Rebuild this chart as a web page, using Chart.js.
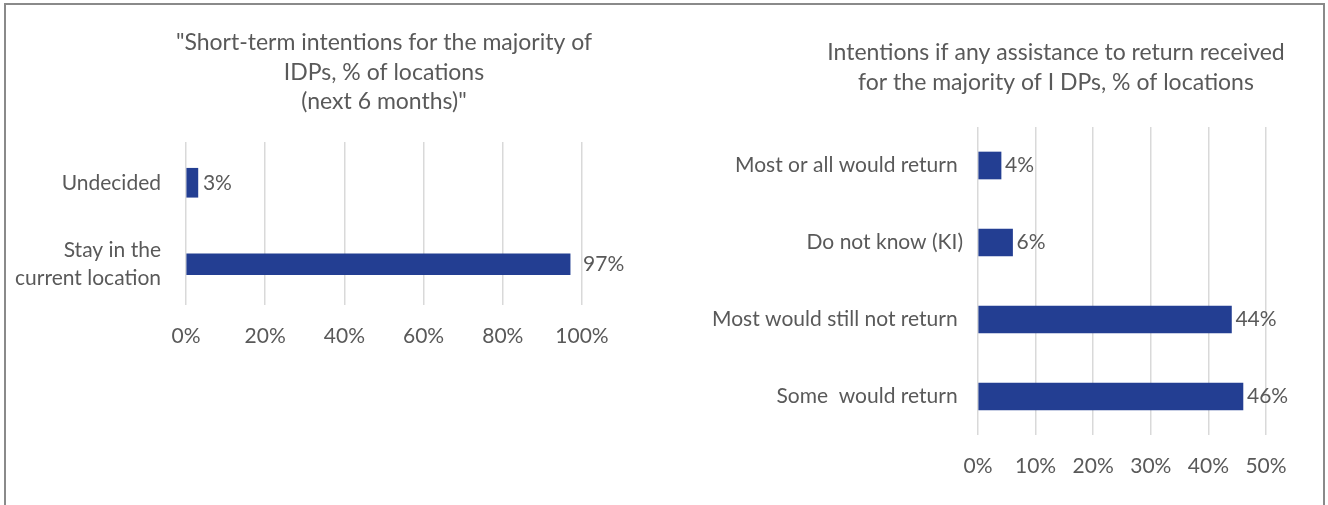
<!DOCTYPE html>
<html>
<head>
<meta charset="utf-8">
<script src="https://cdn.jsdelivr.net/npm/chart.js@4.4.0/dist/chart.umd.min.js"></script>
<style>
  html, body { margin: 0; padding: 0; background: #fff; overflow: hidden; }
  .frame { position: absolute; left: 4px; top: 3px; width: 1317px; height: 540px;
           border: 2px solid #8a8a8a; border-bottom: none; }
  #left { position: absolute; left: 0; top: 0; }
  #right { position: absolute; left: 660px; top: 0; }
</style>
</head>
<body>
<div class="frame"></div>
<canvas id="left" width="660" height="505"></canvas>
<canvas id="right" width="668" height="505"></canvas>
<script>
// short-term intentions
const leftCategories = ['Undecided', ['Stay in the', 'current location']];
const leftValues = [3, 97];
const leftTicks = [0, 20, 40, 60, 80, 100];

// intentions if assistance received
const rightCategories = ['Most or all would return ', 'Do not know (KI)', 'Most would still not return ', 'Some  would return '];
const rightValues = [4, 6, 44, 46];
const rightTicks = [0, 10, 20, 30, 40, 50];

const FONT = 'Lato, "Open Sans", sans-serif';
const TEXT = '#595959';
const BAR = '#233e92';
const GRID = '#d9d9d9';
const LABEL_SIZE = 21;

// multi-line heading drawn centred at a fixed point
const headingPlugin = {
  id: 'heading',
  afterDraw(chart, args, opts) {
    const ctx = chart.ctx;
    ctx.save();
    ctx.font = opts.size + 'px ' + FONT;
    ctx.fillStyle = TEXT;
    ctx.textAlign = 'center';
    ctx.textBaseline = 'middle';
    opts.lines.forEach((line, i) => ctx.fillText(line, opts.x, opts.y + i * opts.lineHeight));
    ctx.restore();
  }
};

// value labels just past the end of each bar
const valueLabels = {
  id: 'valueLabels',
  afterDatasetsDraw(chart) {
    const ctx = chart.ctx;
    ctx.save();
    ctx.font = LABEL_SIZE + 'px ' + FONT;
    ctx.fillStyle = TEXT;
    ctx.textAlign = 'left';
    ctx.textBaseline = 'middle';
    chart.data.datasets.forEach((ds, di) => {
      chart.getDatasetMeta(di).data.forEach((bar, i) => {
        const v = ds.data[i];
        if (v === null || v === undefined) return;
        ctx.fillText(v + '%', bar.x + (ds.labelOffset || 5), bar.y);
      });
    });
    ctx.restore();
  }
};

function valueAxis(ticks, max) {
  return {
    min: 0,
    max: max,
    afterBuildTicks: s => { s.ticks = ticks.map(v => ({ value: v })); },
    afterFit: s => { s.height = 60; },
    ticks: { color: TEXT, font: { family: FONT, size: LABEL_SIZE }, padding: 19, callback: v => v + '%' },
    grid: { color: GRID, lineWidth: 1.5, drawTicks: false },
    border: { display: false }
  };
}

function categoryAxis(width, pad, lineHeight) {
  return {
    afterFit: s => { s.width = width; },
    ticks: { color: TEXT, font: { family: FONT, size: LABEL_SIZE, lineHeight: lineHeight }, padding: pad, autoSkip: false },
    grid: { display: false, drawTicks: false },
    border: { display: false }
  };
}

// left chart: one dataset per bar so each can keep its own thickness
const leftThickness = [29, 21];
const leftLabelOffset = [5, 13];
new Chart(document.getElementById('left'), {
  type: 'bar',
  data: {
    labels: leftCategories,
    datasets: leftValues.map((v, i) => ({
      data: leftValues.map((w, j) => (j === i ? w : null)),
      backgroundColor: BAR,
      barThickness: leftThickness[i],
      grouped: false,
      labelOffset: leftLabelOffset[i]
    }))
  },
  options: {
    indexAxis: 'y',
    responsive: false,
    animation: false,
    layout: { padding: { top: 142, right: 78, bottom: 140, left: 0 } },
    scales: {
      x: valueAxis(leftTicks, 100),
      y: categoryAxis(186, 25, 1.3)
    },
    plugins: {
      legend: { display: false },
      tooltip: { enabled: false },
      heading: {
        lines: ['"Short-term intentions for the majority of', 'IDPs, % of locations', '(next 6 months)"'],
        x: 384, y: 43, lineHeight: 29.5, size: 23
      }
    }
  },
  plugins: [headingPlugin, valueLabels]
});

new Chart(document.getElementById('right'), {
  type: 'bar',
  data: {
    labels: rightCategories,
    datasets: [{
      data: rightValues,
      backgroundColor: BAR,
      barThickness: 27,
      labelOffset: 4
    }]
  },
  options: {
    indexAxis: 'y',
    responsive: false,
    animation: false,
    layout: { padding: { top: 127, right: 62, bottom: 10, left: 0 } },
    scales: {
      x: valueAxis(rightTicks, 50),
      y: categoryAxis(318, 15, 1.2)
    },
    plugins: {
      legend: { display: false },
      tooltip: { enabled: false },
      heading: {
        lines: ['Intentions if any assistance to return received', 'for the majority of I DPs, % of locations'],
        x: 396, y: 53, lineHeight: 30, size: 23
      }
    }
  },
  plugins: [headingPlugin, valueLabels]
});
</script>
</body>
</html>
